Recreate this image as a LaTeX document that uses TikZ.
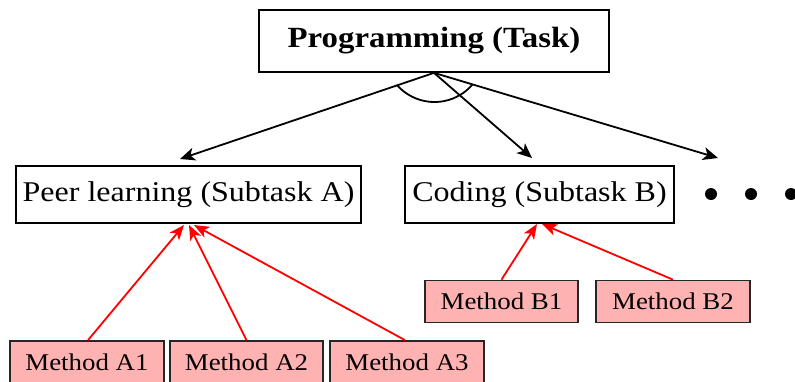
\documentclass[tikz,border=0pt]{standalone}
\usepackage{fontspec}
\setmainfont[FakeStretch=1.12]{Liberation Serif}
\usetikzlibrary{arrows.meta}
\definecolor{pinkfill}{RGB}{255,178,178}
\begin{document}
\begin{tikzpicture}[x=1pt,y=-1pt,
  box/.style={draw=black,line width=1.7pt,inner sep=0pt,fill=white},
  method/.style={draw=black!85,line width=1.7pt,inner sep=0pt,fill=pinkfill,minimum height=42pt,font=\fontsize{24}{27}\selectfont},
  blk/.style={line width=1.8pt,-{Stealth[length=15pt,width=13pt,inset=4pt]}},
  redarr/.style={red,line width=1.8pt,-{Stealth[length=15pt,width=12pt,inset=4pt]}}]
\useasboundingbox (0,0) rectangle (795,381);
\node[box,minimum width=350pt,minimum height=62pt,font=\bfseries\fontsize{29.3}{33}\selectfont] (top) at (434,41) {Programming (Task)};
\node[box,minimum width=345pt,minimum height=57pt,font=\fontsize{28.6}{32}\selectfont] (A) at (188.5,194.5) {Peer learning (Subtask A)};
\node[box,minimum width=269pt,minimum height=57pt,font=\fontsize{28.6}{32}\selectfont] (B) at (539.5,194.5) {Coding (Subtask B)};
\node[method,minimum width=153pt] (B1) at (501.5,301.5) {Method B1};
\node[method,minimum width=154pt] (B2) at (673,301.5) {Method B2};
\node[method,minimum width=154pt] (A1) at (87,362) {Method A1};
\node[method,minimum width=153pt] (A2) at (246.5,362) {Method A2};
\node[method,minimum width=154pt] (A3) at (407,362) {Method A3};
\foreach \i/\x in {1/711,2/751,3/791} \fill (\x,194) circle (6pt) coordinate (dot\i);
\coordinate (apex) at (top.south);
\coordinate (endA) at (180,159);
\coordinate (endB) at (532,158);
\coordinate (endC) at (718,158);
\draw[blk] (apex) -- (endA);
\draw[blk] (apex) -- (endB);
\draw[blk] (apex) -- (endC);
\coordinate (arcc) at (434.5,52);
\draw[line width=1.8pt] (arcc) ++(-139:50pt) arc[start angle=-139,end angle=-41,radius=50pt];
\coordinate (a1) at (184,225);
\coordinate (a2) at (189,225);
\coordinate (a3) at (194,225);
\coordinate (b1) at (537,224);
\coordinate (b2) at (542,224);
\draw[redarr] (A1.north) ++(1,0) -- (a1);
\draw[redarr] (A2.north) -- (a2);
\draw[redarr] (A3.north) ++(-2,0) -- (a3);
\draw[redarr] (B1.north) -- (b1);
\draw[redarr] (B2.north) -- (b2);
\end{tikzpicture}
\end{document}
